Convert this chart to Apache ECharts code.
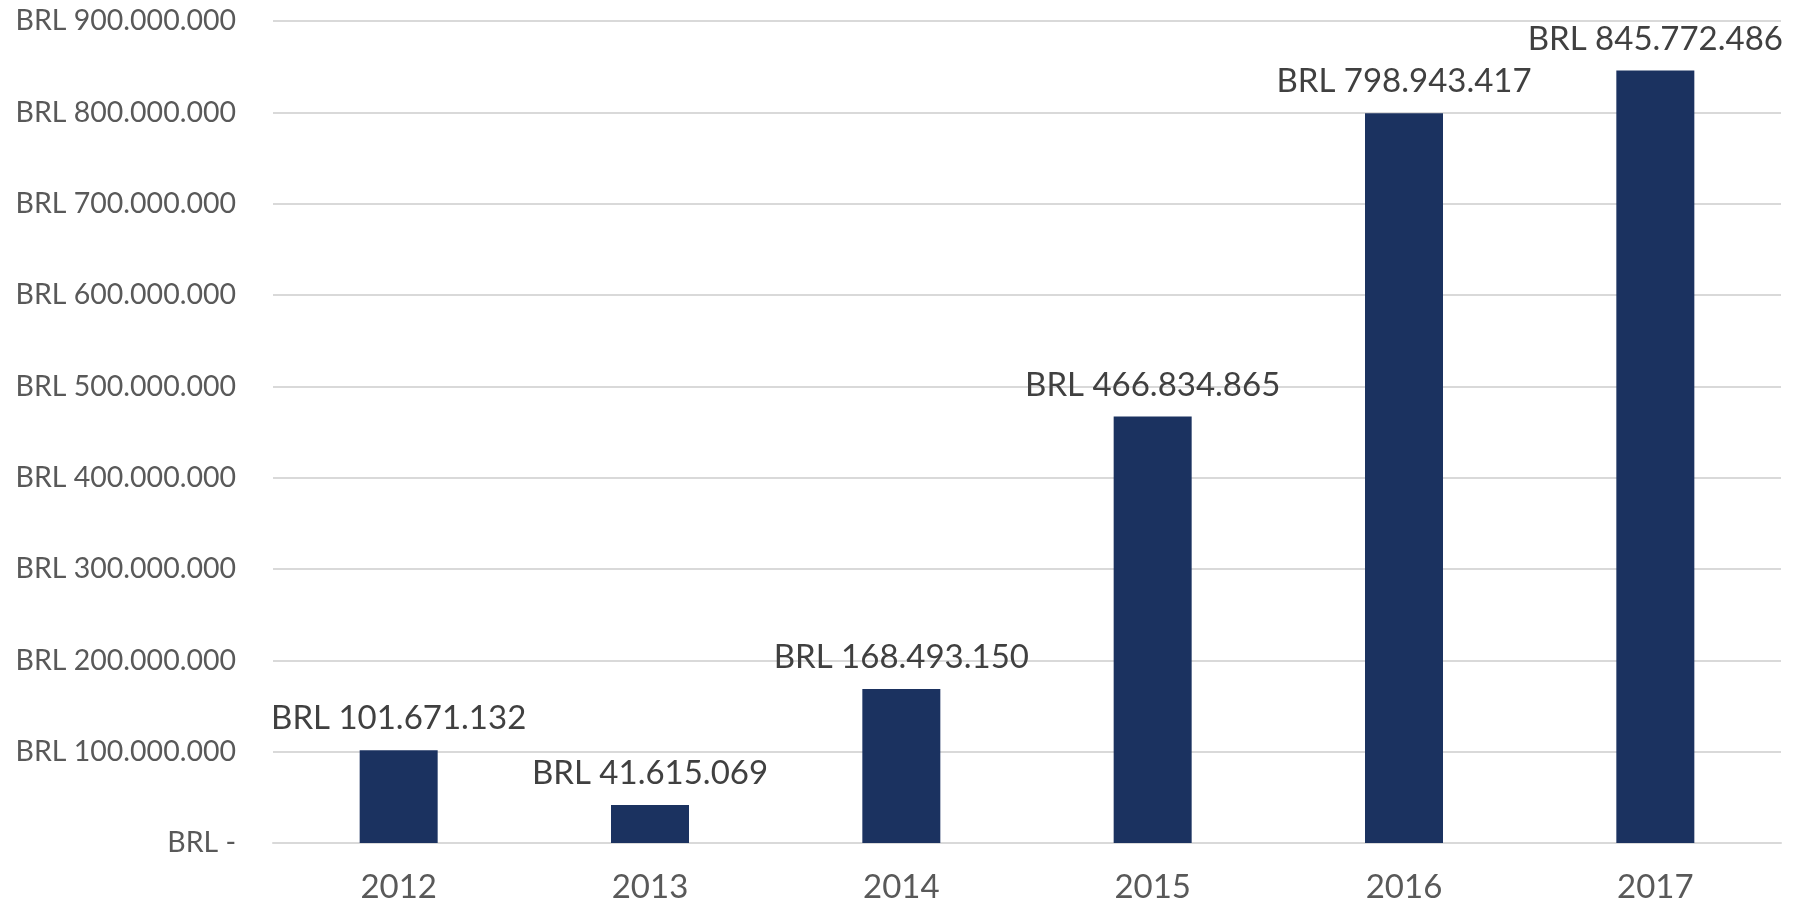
<!DOCTYPE html>
<html>
<head>
<meta charset="utf-8">
<script src="https://cdn.jsdelivr.net/npm/echarts@6/dist/echarts.min.js"></script>
<style>
    html, body { margin: 0; padding: 0; background: #fff; }
    #chart { width: 1795px; height: 906px; }
</style>
</head>
<body>
<div id="chart"></div>
<script>
var years = ['2012', '2013', '2014', '2015', '2016', '2017'];
var amounts = [101671132, 41615069, 168493150, 466834865, 798943417, 845772486];

// dots as thousands separator, like the source
const brl = function (v) {
    if (v === 0)
        return 'BRL -';
    return 'BRL ' + String(v).replace(/\B(?=(\d{3})+(?!\d))/g, '.');
};

var chart = echarts.init(document.getElementById('chart'));
chart.setOption({
    animation: false,
    grid: {left: 273, right: 14, top: 21, bottom: 63},
    xAxis: {
        type: 'category',
        data: years,
        axisLine: {lineStyle: {color: '#d9d9d9', width: 2}},
        axisTick: {show: false},
        axisLabel: {color: '#595959', fontFamily: 'Lato', fontSize: 33, margin: 28}
    },
    yAxis: {
        type: 'value',
        min: 0,
        max: 900000000,
        interval: 100000000,
        axisLine: {show: false},
        axisTick: {show: false},
        splitLine: {lineStyle: {color: '#d9d9d9', width: 2}},
        axisLabel: {
            color: '#595959', fontFamily: 'Lato', fontSize: 28.5, margin: 37,
            formatter: brl
        }
    },
    series: [{
        type: 'bar',
        data: amounts,
        barWidth: 78,
        itemStyle: {color: '#1b3260'},
        label: {
            show: true,
            position: 'top',
            distance: 15,
            color: '#404040',
            fontFamily: 'Lato',
            fontSize: 33,
            formatter: p => brl(p.value)
        }
    }]
});
</script>
</body>
</html>
